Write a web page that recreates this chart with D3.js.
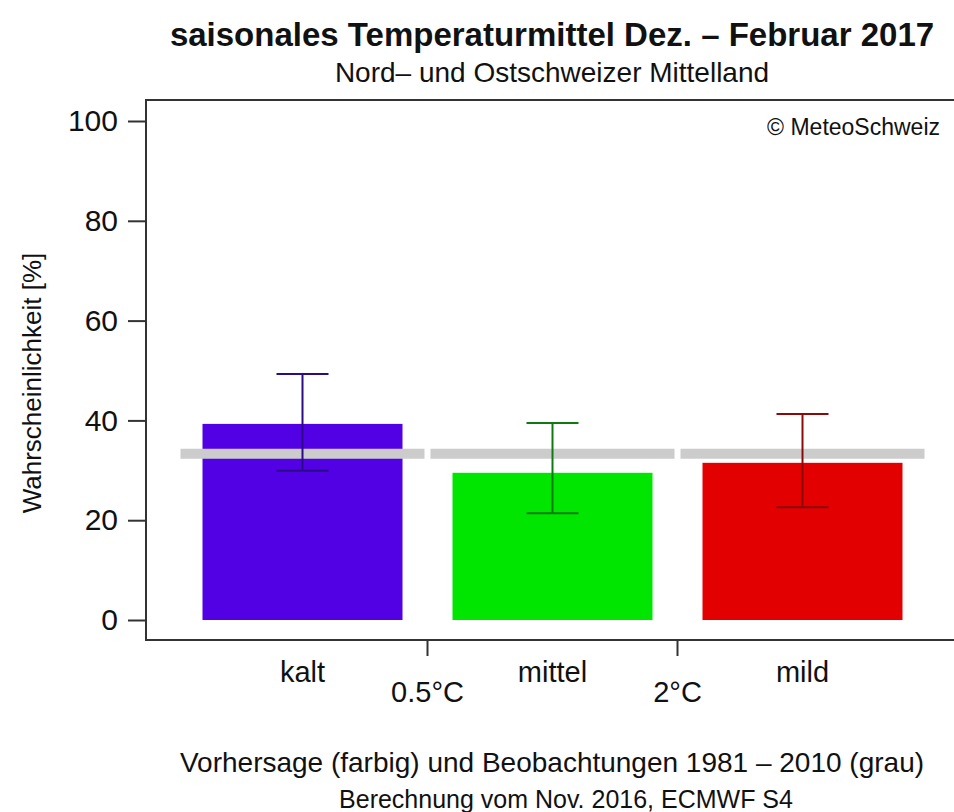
<!DOCTYPE html>
<html>
<head>
<meta charset="utf-8">
<script src="https://cdn.jsdelivr.net/npm/d3@7"></script>
<style>
    body { margin: 0; background: #fff; }
    svg text { font-family: "Liberation Sans", Arial, sans-serif; fill: #111; }
</style>
</head>
<body>
<svg id="chart" width="954" height="812"></svg>
<script>
'use strict';

// Data
const categories = ['kalt', 'mittel', 'mild'];
const forecast = [39.3, 29.5, 31.5];
const errLow = [29.9, 21.4, 22.6];
const errHigh = [49.3, 39.5, 41.3];
const climatology = [33.3, 33.3, 33.3];
const boundaries = ['0.5°C', '2°C'];
const yTicks = [0, 20, 40, 60, 80, 100];
const barColors = ['#5200e4', '#00e600', '#e30000'];
const errColors = ['#2b0c84', '#0f7a0f', '#8a0a0a'];

(function () {

    const svg = d3.select('#chart');

    // Plot frame
    const frame = {'left': 146, 'right': 958, 'top': 100, 'bottom': 640};

    // Scales
    const x = d3.scaleBand()
        .domain(categories)
        .range([177.5, 927.5])
        .paddingInner(0.2)
        .paddingOuter(0.1);

    const y = d3.scaleLinear()
        .domain([0, 100])
        .range([620, 121]);

    const step = x.step();
    const outer = step * 0.1;

    // Titles
    svg.append('text')
        .attr('x', 552).attr('y', 46)
        .attr('text-anchor', 'middle')
        .style('font-size', '33px')
        .style('font-weight', 'bold')
        .text('saisonales Temperaturmittel Dez. – Februar 2017');

    svg.append('text')
        .attr('x', 552).attr('y', 82)
        .attr('text-anchor', 'middle')
        .style('font-size', '28px')
        .text('Nord– und Ostschweizer Mittelland');

    // Bars
    svg.selectAll('.bar')
        .data(categories)
        .enter()
        .append('rect')
            .attr('class', 'bar')
            .attr('x', (d) => x(d))
            .attr('y', (d, i) => y(forecast[i]))
            .attr('width', x.bandwidth())
            .attr('height', (d, i) => y(0) - y(forecast[i]))
            .style('fill', (d, i) => barColors[i]);

    // Climatology (grey)
    svg.selectAll('.clim')
        .data(categories)
        .enter()
        .append('line')
            .attr('class', 'clim')
            .attr('x1', (d) => x(d) - outer + 3)
            .attr('x2', (d) => x(d) + x.bandwidth() + outer - 3)
            .attr('y1', (d, i) => y(climatology[i]))
            .attr('y2', (d, i) => y(climatology[i]))
            .style('stroke', '#cccccc')
            .style('stroke-width', 10);

    // Error bars
    const errs = svg.selectAll('.err')
        .data(categories)
        .enter()
        .append('g')
            .attr('class', 'err')
            .style('stroke', (d, i) => errColors[i])
            .style('stroke-width', 2);

    errs.append('line')
        .attr('x1', (d) => x(d) + x.bandwidth() / 2)
        .attr('x2', (d) => x(d) + x.bandwidth() / 2)
        .attr('y1', (d, i) => y(errLow[i]))
        .attr('y2', (d, i) => y(errHigh[i]));

    errs.append('line')
        .attr('x1', (d) => x(d) + x.bandwidth() / 2 - 26)
        .attr('x2', (d) => x(d) + x.bandwidth() / 2 + 26)
        .attr('y1', (d, i) => y(errHigh[i]))
        .attr('y2', (d, i) => y(errHigh[i]));

    errs.append('line')
        .attr('x1', (d) => x(d) + x.bandwidth() / 2 - 26)
        .attr('x2', (d) => x(d) + x.bandwidth() / 2 + 26)
        .attr('y1', (d, i) => y(errLow[i]))
        .attr('y2', (d, i) => y(errLow[i]));

    // Frame
    svg.append('rect')
        .attr('x', frame.left)
        .attr('y', frame.top)
        .attr('width', frame.right - frame.left)
        .attr('height', frame.bottom - frame.top)
        .style('fill', 'none')
        .style('stroke', '#333')
        .style('stroke-width', 2);

    // Y axis
    const yAxis = svg.append('g')
        .attr('class', 'y axis')
        .attr('transform', `translate(${frame.left}, 0)`)
        .call(d3.axisLeft(y).tickValues(yTicks).tickSize(18).tickPadding(10));

    yAxis.select('.domain').remove();
    yAxis.selectAll('line').style('stroke', '#333').style('stroke-width', 2);
    yAxis.selectAll('text')
        .style('font-size', '30px')
        .style('fill', '#111')
        .style('font-family', '"Liberation Sans", Arial, sans-serif');

    svg.append('text')
        .attr('transform', 'translate(41, 383) rotate(-90)')
        .attr('text-anchor', 'middle')
        .style('font-size', '26px')
        .text('Wahrscheinlichkeit [%]');

    // X category labels
    svg.selectAll('.cat')
        .data(categories)
        .enter()
        .append('text')
            .attr('class', 'cat')
            .attr('x', (d) => x(d) + x.bandwidth() / 2)
            .attr('y', 682)
            .attr('text-anchor', 'middle')
            .style('font-size', '29px')
            .text((d) => d);

    // Category boundaries
    const bounds = svg.selectAll('.bound')
        .data(boundaries)
        .enter()
        .append('g')
            .attr('class', 'bound')
            .attr('transform', (d, i) => `translate(${x(categories[i]) + x.bandwidth() + outer}, 0)`);

    bounds.append('line')
        .attr('y1', frame.bottom)
        .attr('y2', frame.bottom + 16)
        .style('stroke', '#333')
        .style('stroke-width', 2);

    bounds.append('text')
        .attr('y', 702)
        .attr('text-anchor', 'middle')
        .style('font-size', '29px')
        .text((d) => d);

    // Copyright
    svg.append('text')
        .attr('x', 940).attr('y', 135)
        .attr('text-anchor', 'end')
        .style('font-size', '23px')
        .text('© MeteoSchweiz');

    // Footer
    svg.append('text')
        .attr('x', 552).attr('y', 772)
        .attr('text-anchor', 'middle')
        .style('font-size', '28px')
        .text('Vorhersage (farbig) und Beobachtungen 1981 – 2010 (grau)');

    svg.append('text')
        .attr('x', 566).attr('y', 808)
        .attr('text-anchor', 'middle')
        .style('font-size', '25px')
        .text('Berechnung vom Nov. 2016, ECMWF S4');

})();
</script>
</body>
</html>
